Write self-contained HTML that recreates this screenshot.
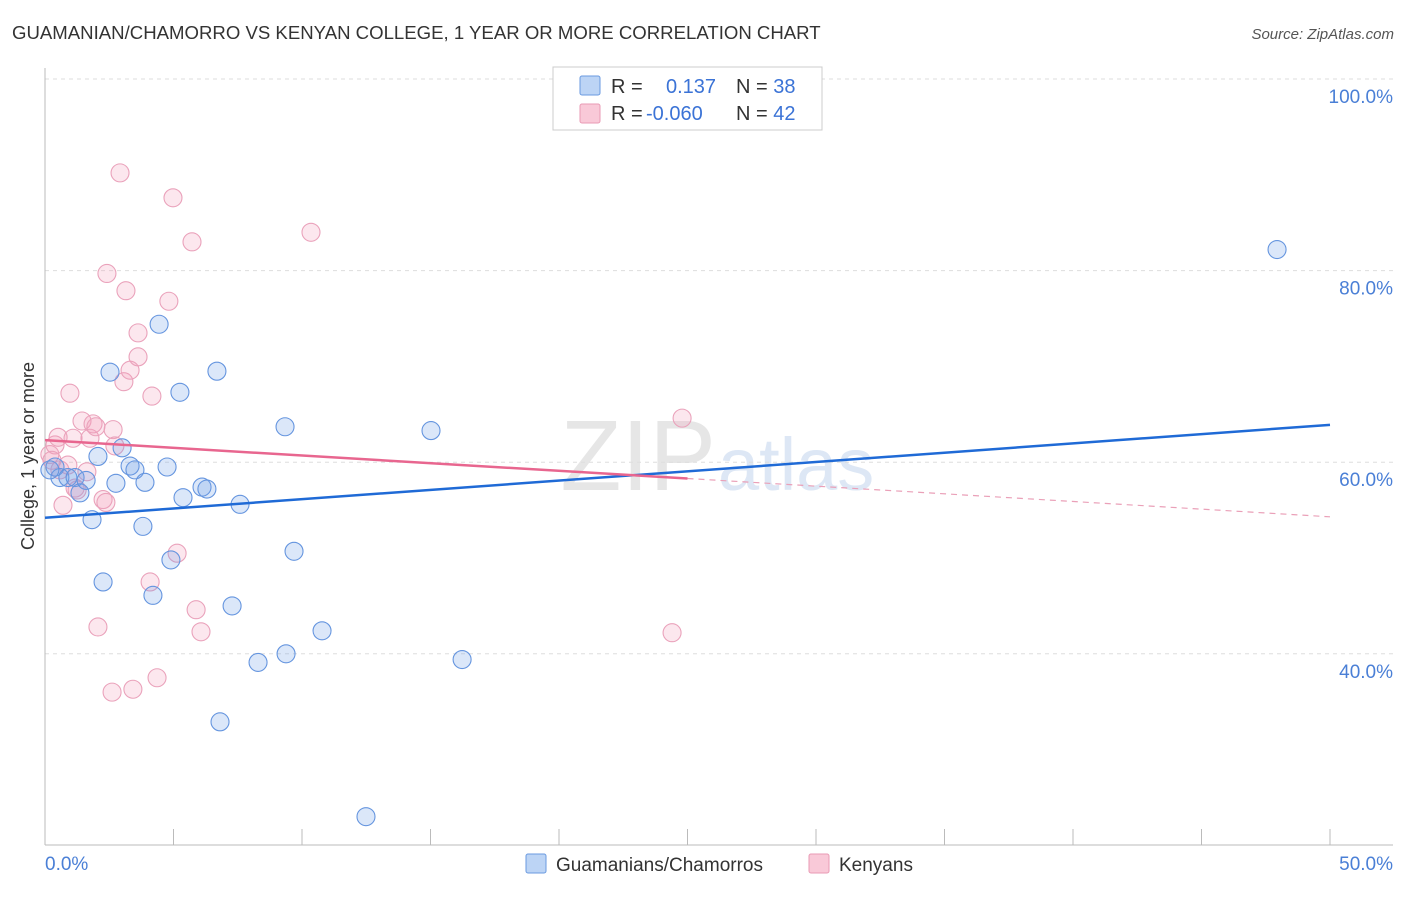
<!DOCTYPE html>
<html><head><meta charset="utf-8"><style>
body{margin:0;background:#fff;font-family:"Liberation Sans",sans-serif;}
svg text{font-family:"Liberation Sans",sans-serif;}
</style></head><body>
<svg id="chart" width="1406" height="892">
<text x="12" y="39" font-size="18.6" fill="#333">GUAMANIAN/CHAMORRO VS KENYAN COLLEGE, 1 YEAR OR MORE CORRELATION CHART</text>
<text x="1394" y="39" font-size="15" fill="#555" font-style="italic" text-anchor="end">Source: ZipAtlas.com</text>
<text x="716" y="490" font-size="100" fill="#e6e6e6" font-family="Liberation Serif" text-anchor="end">ZIP</text>
<text x="718" y="490" font-size="74" fill="#dde7f5">atlas</text>
<g id="grid"></g>
<g id="axes"></g>
<g id="marks"></g>
<text transform="translate(34,456) rotate(-90)" font-size="18" fill="#333" text-anchor="middle">College, 1 year or more</text>
<text x="45" y="870" font-size="19" fill="#4a7fd6">0.0%</text>
<text x="1393" y="870" font-size="19" fill="#4a7fd6" text-anchor="end">50.0%</text>
<g>
<rect x="553" y="67" width="269" height="63" fill="#fff" stroke="#ccc"/>
<rect x="580" y="76" width="20" height="19" fill="#bcd4f5" stroke="#6a9ae0" rx="2"/>
<rect x="580" y="104" width="20" height="19" fill="#f9c9d8" stroke="#e99ab4" rx="2"/>
<text x="611" y="93" font-size="20" fill="#333">R = <tspan x="666" fill="#3b73d6">0.137</tspan><tspan x="736" fill="#333">N = </tspan><tspan fill="#3b73d6">38</tspan></text>
<text x="611" y="120" font-size="20" fill="#333">R = <tspan x="646" fill="#3b73d6">-0.060</tspan><tspan x="736" fill="#333">N = </tspan><tspan fill="#3b73d6">42</tspan></text>
</g>
<g>
<rect x="526" y="854" width="20" height="19" fill="#bcd4f5" stroke="#6a9ae0" rx="2"/>
<text x="556" y="871" font-size="19" fill="#333">Guamanians/Chamorros</text>
<rect x="809" y="854" width="20" height="19" fill="#f9c9d8" stroke="#e99ab4" rx="2"/>
<text x="839" y="871" font-size="19" fill="#333">Kenyans</text>
</g>
</svg>
<script>
const blueX=[0.39,0.58,0.89,1.17,1.36,1.60,1.83,2.06,2.26,2.53,2.76,3.00,3.31,3.50,3.81,3.89,4.20,4.44,4.75,4.90,5.25,5.37,6.11,6.30,6.69,7.28,7.59,8.29,9.34,9.38,9.69,10.78,15.02,16.23,6.81,12.49,47.94,0.19];
const blueY=[59.5,58.4,58.4,58.4,56.8,58.1,54.0,60.6,47.5,69.4,57.8,61.5,59.6,59.2,53.3,57.9,46.1,74.4,59.5,49.8,67.3,56.3,57.4,57.2,69.5,45.0,55.6,39.1,63.7,40.0,50.7,42.4,63.3,39.4,32.9,23.0,82.2,59.2];
const pinkX=[0.19,0.39,0.51,0.70,0.89,0.97,1.09,1.25,1.44,1.63,1.75,1.87,1.98,2.06,2.26,2.37,2.41,2.61,2.65,2.72,2.92,3.07,3.15,3.31,3.42,3.62,3.62,4.09,4.16,4.36,4.82,4.98,5.14,5.72,5.88,6.07,10.35,24.79,24.40,0.27,0.58,1.17];
const pinkY=[60.8,61.8,62.6,55.5,59.7,67.2,62.5,57.1,64.3,59.0,62.5,64.0,63.7,42.8,56.1,55.8,79.7,36.0,63.4,61.7,90.2,68.4,77.9,69.6,36.3,73.5,71.0,47.5,66.9,37.5,76.8,87.6,50.5,83.0,44.6,42.3,84.0,64.6,42.2,60.2,59.2,57.3];
const blueTrend=[54.2,63.9]; // y at x=0 and x=50
const pinkTrend=[62.3,54.3];
const yTicks=[100,80,60,40];
const xTicks=[0,5,10,15,20,25,30,35,40,45,50];
const NS='http://www.w3.org/2000/svg';
function sx(v){return 45+v*25.7;}
function sy(v){return 79+(100-v)*9.58;}
function mk(tag,attrs,parent){const e=document.createElementNS(NS,tag);for(const k in attrs)e.setAttribute(k,attrs[k]);parent.appendChild(e);return e;}
const grid=document.getElementById('grid'),axes=document.getElementById('axes'),marks=document.getElementById('marks');
yTicks.forEach(t=>{
 const l=mk('line',{x1:45,x2:1393,y1:sy(t),y2:sy(t),stroke:'#ddd','stroke-dasharray':'4,4'},grid);
 
 
 const tx=mk('text',{x:1393,y:sy(t)+24,'font-size':19,fill:'#4a7fd6','text-anchor':'end'},grid);
 tx.textContent=t.toFixed(1)+'%';
 
 
});
const ya=mk('line',{x1:45,x2:45,y1:68,y2:845,stroke:'#bbb'},axes);


const xa=mk('line',{x1:45,x2:1393,y1:845,y2:845,stroke:'#bbb'},axes);


xTicks.forEach(t=>{
 const l=mk('line',{x1:sx(t),x2:sx(t),y1:829,y2:845,stroke:'#bbb'},axes);
 
 
});
function pts(xs,ys,fill,stroke,name){
 xs.forEach((x,i)=>{
  const c=mk('circle',{cx:sx(x),cy:sy(ys[i]),r:9,fill:fill,stroke:stroke,'stroke-width':1.1},marks);
  
  
 });
}
pts(pinkX,pinkY,'rgba(244,160,188,0.25)','#eaa2bb','kenyan-point');
pts(blueX,blueY,'rgba(110,160,232,0.25)','#6595df','guamanian-point');
const bt=mk('line',{x1:sx(0),y1:sy(blueTrend[0]),x2:sx(50),y2:sy(blueTrend[1]),stroke:'#1f6ad6','stroke-width':2.5},marks);


const pm=pinkTrend[0]+(pinkTrend[1]-pinkTrend[0])*0.5;
const pt=mk('line',{x1:sx(0),y1:sy(pinkTrend[0]),x2:sx(25),y2:sy(pm),stroke:'#e8668f','stroke-width':2.5},marks);


const pd=mk('line',{x1:sx(25),y1:sy(pm),x2:sx(50),y2:sy(pinkTrend[1]),stroke:'#eaa0b8','stroke-width':1.2,'stroke-dasharray':'6,5'},marks);


</script>
</body></html>
